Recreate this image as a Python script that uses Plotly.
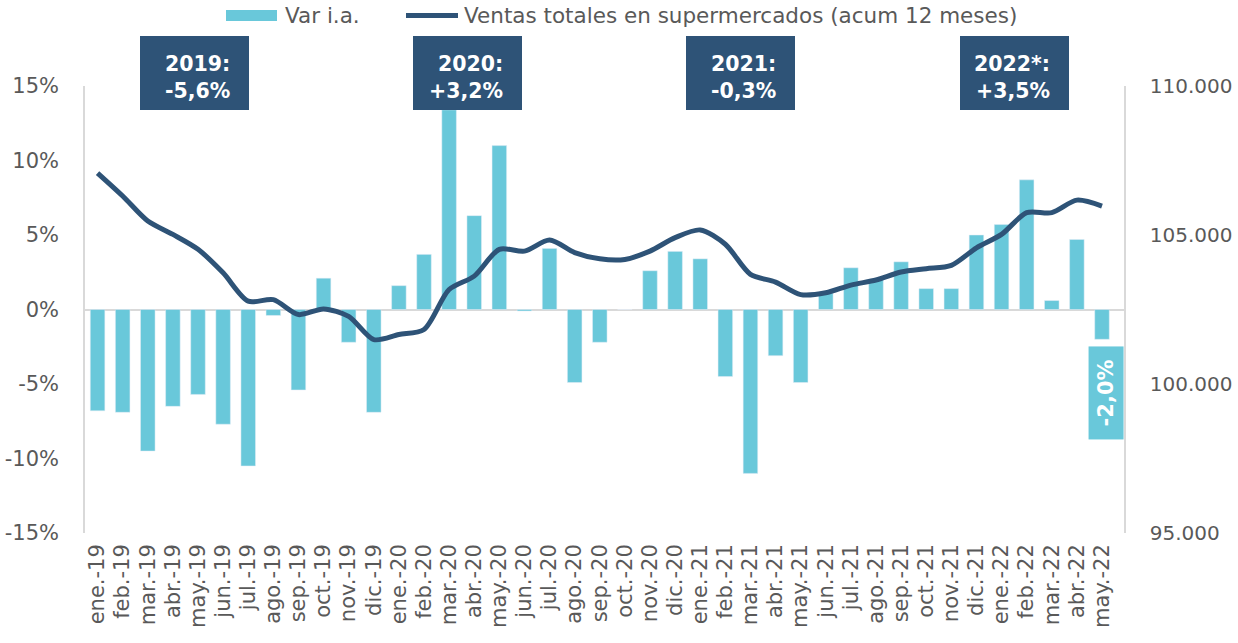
import plotly.graph_objects as go

months = ["ene.-19","feb.-19","mar.-19","abr.-19","may.-19","jun.-19","jul.-19","ago.-19","sep.-19","oct.-19","nov.-19","dic.-19",
          "ene.-20","feb.-20","mar.-20","abr.-20","may.-20","jun.-20","jul.-20","ago.-20","sep.-20","oct.-20","nov.-20","dic.-20",
          "ene.-21","feb.-21","mar.-21","abr.-21","may.-21","jun.-21","jul.-21","ago.-21","sep.-21","oct.-21","nov.-21","dic.-21",
          "ene.-22","feb.-22","mar.-22","abr.-22","may.-22"]

var_ia = [-6.8, -6.9, -9.5, -6.5, -5.7, -7.7, -10.5, -0.4, -5.4, 2.1, -2.2, -6.9,
          1.6, 3.7, 13.4, 6.3, 11.0, -0.1, 4.1, -4.9, -2.2, 0.0, 2.6, 3.9,
          3.4, -4.5, -11.0, -3.1, -4.9, 1.1, 2.8, 2.0, 3.2, 1.4, 1.4, 5.0,
          5.7, 8.7, 0.6, 4.7, -2.0]

ventas = [107080, 106310, 105470, 105020, 104520, 103730, 102780, 102830, 102330, 102520, 102270, 101490,
          101660, 101830, 103170, 103620, 104520, 104460, 104830, 104410, 104200, 104180, 104460, 104910,
          105170, 104690, 103680, 103420, 103000, 103060, 103320, 103490, 103760, 103870, 103980, 104570,
          105020, 105750, 105750, 106170, 105970]

left_tickvals = [-15, -10, -5, 0, 5, 10, 15]
left_ticktext = ["-15%", "-10%", "-5%", "0%", "5%", "10%", "15%"]

year_titles = ["2019:", "2020:", "2021:", "2022*:"]
year_values = ["-5,6%", "+3,2%", "-0,3%", "+3,5%"]
box_left_px = [140, 413, 686, 960]

bar_name = "Var i.a."
line_name = "Ventas totales en supermercados (acum 12 meses)"
last_label = "-2,0%"

BAR = "#69C8DA"
LINE = "#2E5377"
TXT = "#595959"
GRID = "#D9D9D9"
FONT = "DejaVu Sans"

fig = go.Figure()
fig.add_trace(go.Bar(x=months, y=var_ia, name=bar_name, marker_color=BAR, yaxis="y", showlegend=False))
fig.add_trace(go.Scatter(x=months, y=ventas, name=line_name, showlegend=False,
                         mode="lines", line=dict(color=LINE, width=5, shape="spline", smoothing=0.8),
                         yaxis="y2"))

L, R, T, B = 85, 114, 86, 110
W, H = 1238, 643
pw = W - L - R
ph = H - T - B

def px_x(px):
    return (px - L) / pw

def px_y(py):
    return 1 - (py - T) / ph

shapes = []
annotations = []
for title, val, lx in zip(year_titles, year_values, box_left_px):
    shapes.append(dict(type="rect", xref="paper", yref="paper",
                       x0=px_x(lx), x1=px_x(lx + 109),
                       y0=px_y(110), y1=px_y(36),
                       fillcolor=LINE, line=dict(width=0), layer="above"))
    for txt, cy in ((title, 64), (val, 91)):
        annotations.append(dict(xref="paper", yref="paper", x=px_x(lx + 92), y=px_y(cy),
                                xanchor="right", yanchor="middle", align="right", showarrow=False,
                                text="<b>" + txt + "</b>", font=dict(family=FONT, size=20.5, color="white")))

# custom legend
shapes.append(dict(type="rect", xref="paper", yref="paper", x0=px_x(226), x1=px_x(277),
                   y0=px_y(21), y1=px_y(10), fillcolor=BAR, line=dict(width=0)))
shapes.append(dict(type="line", xref="paper", yref="paper", x0=px_x(406), x1=px_x(458),
                   y0=px_y(15.5), y1=px_y(15.5), line=dict(color=LINE, width=5)))
annotations.append(dict(xref="paper", yref="paper", x=px_x(283), y=px_y(15), xanchor="left", yanchor="middle",
                        showarrow=False, text=bar_name, font=dict(family=FONT, size=21.5, color=TXT)))
annotations.append(dict(xref="paper", yref="paper", x=px_x(462), y=px_y(15), xanchor="left", yanchor="middle",
                        showarrow=False, text=line_name, font=dict(family=FONT, size=21.5, color=TXT)))

annotations.append(dict(x=months[-1], y=-5.6, xref="x", yref="y", text="<b>" + last_label + "</b>",
                        textangle=-90, showarrow=False, bgcolor=BAR, borderpad=0, width=92, height=34,
                        xshift=4, font=dict(family=FONT, size=21, color="white")))

fig.update_layout(
    width=W, height=H,
    margin=dict(l=L, r=R, t=T, b=B, autoexpand=False),
    paper_bgcolor="white", plot_bgcolor="white",
    separators=",.",
    font=dict(family=FONT, size=21, color=TXT),
    bargap=0.42,
    showlegend=False,
    xaxis=dict(type="category", tickmode="array", tickvals=months, ticktext=months,
               tickangle=-90, showgrid=False, showline=False, ticks="",
               ticklabelstandoff=6, tickfont=dict(family=FONT, size=21, color=TXT)),
    yaxis=dict(range=[-15, 15], tickvals=left_tickvals, ticktext=left_ticktext, showgrid=False, zeroline=True,
               zerolinecolor=GRID, zerolinewidth=1.5, showline=True, linecolor=GRID, linewidth=1.5,
               ticks="", ticklabelstandoff=20, tickfont=dict(family=FONT, size=21, color=TXT)),
    yaxis2=dict(range=[95000, 110000], dtick=5000, tickformat=",.0f", overlaying="y", side="right",
                showgrid=False, zeroline=False, showline=True, linecolor=GRID, linewidth=1.5,
                ticks="", ticklabelstandoff=20, tickfont=dict(family=FONT, size=20, color=TXT)),
    shapes=shapes,
    annotations=annotations,
)

fig.write_html("out.html", config={"displayModeBar": False},
               post_script="document.body.style.margin='0px';document.body.style.padding='0px';")
